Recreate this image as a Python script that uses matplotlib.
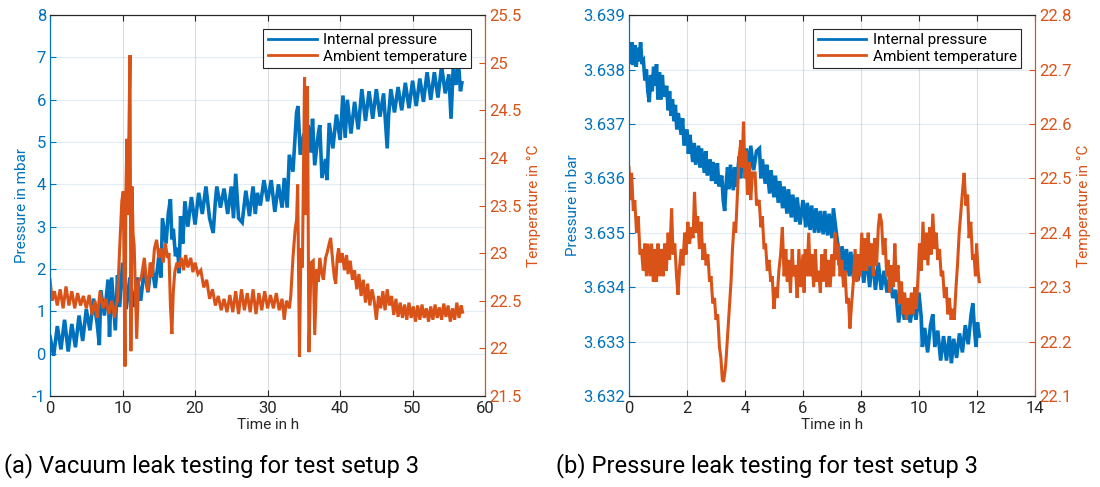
import matplotlib
matplotlib.use("Agg")
import matplotlib.pyplot as plt
from matplotlib.ticker import FuncFormatter, FormatStrFormatter

plt.rcParams['font.family'] = ['Roboto', 'DejaVu Sans']

BLUE = '#0072BD'
ORANGE = '#D95319'
DARK = '#262626'

# ---- (a) vacuum leak test: internal pressure (mbar) ----
t_vac_p = [0.0, 0.5, 1.0, 1.5, 2.0, 2.5, 3.0, 3.5, 4.0, 4.5, 5.0, 5.5, 6.0, 6.5, 6.8, 7.0, 7.5, 8.0,
           8.2, 8.5, 9.0, 9.3, 9.6, 10.0, 10.5, 11.0, 11.5, 12.0, 12.5, 13.0, 13.5, 14.0, 14.5, 15.0,
           15.3, 15.5, 16.0, 16.3, 16.6, 16.8, 17.0, 17.3, 17.6, 17.8, 18.0, 18.3, 18.6, 19.0, 19.5,
           20.0, 20.5, 21.0, 21.5, 22.0, 22.5, 22.8, 23.0, 23.5, 24.0, 24.5, 25.0, 25.3, 25.6, 26.0,
           26.5, 27.0, 27.5, 28.0, 28.3, 28.6, 29.0, 29.5, 30.0, 30.5, 31.0, 31.5, 32.0, 32.3, 32.7,
           33.0, 33.5, 34.0, 34.2, 34.5, 35.0, 35.3, 35.6, 36.0, 36.2, 36.5, 37.0, 37.2, 37.5, 38.0,
           38.2, 38.5, 39.0, 39.5, 40.0, 40.4, 40.7, 41.0, 41.5, 42.0, 42.5, 43.0, 43.5, 44.0, 44.5,
           45.0, 45.5, 46.0, 46.5, 46.7, 47.0, 47.5, 48.0, 48.5, 49.0, 49.5, 50.0, 50.5, 51.0, 51.5,
           52.0, 52.5, 53.0, 53.5, 54.0, 54.5, 55.0, 55.3, 55.6, 56.0, 56.3, 56.6, 56.8]
p_vac = [0.40, -0.05, 0.65, 0.10, 0.80, 0.05, 0.70, 0.15, 0.90, 0.30, 1.05, 0.55, 1.30, 0.70, 0.20,
         1.50, 0.90, 1.75, 0.40, 1.80, 0.55, 1.85, 1.10, 2.15, 1.05, 1.80, 1.10, 1.80, 1.25, 2.00,
         1.45, 2.15, 1.55, 2.30, 1.80, 3.20, 2.60, 3.30, 3.65, 2.70, 2.95, 2.30, 2.50, 1.90, 3.25,
         2.60, 3.60, 3.00, 3.70, 3.05, 3.80, 3.30, 3.95, 3.20, 2.85, 3.60, 3.95, 3.45, 3.90, 3.30,
         3.95, 3.20, 4.25, 3.20, 3.10, 3.85, 3.25, 3.95, 3.30, 3.80, 3.50, 4.10, 3.60, 4.10, 3.35,
         4.00, 3.45, 4.15, 3.45, 4.70, 4.30, 5.70, 5.85, 4.70, 5.20, 4.55, 5.40, 4.75, 5.55, 4.45,
         5.20, 5.40, 4.15, 4.60, 4.10, 5.45, 4.85, 5.65, 5.05, 6.10, 5.10, 6.00, 5.20, 5.95, 5.30,
         6.25, 5.50, 6.20, 5.55, 6.25, 5.60, 6.15, 4.85, 5.65, 6.25, 5.70, 6.30, 5.75, 6.40, 5.80,
         6.45, 5.85, 6.50, 5.95, 6.65, 6.00, 6.65, 6.05, 6.80, 6.15, 6.60, 5.55, 6.75, 6.35, 6.95,
         6.20, 6.40]

# ---- (a) vacuum leak test: ambient temperature (degC) ----
t_vac_T = [0.0, 0.3, 0.6, 1.0, 1.4, 1.8, 2.2, 2.6, 3.0, 3.4, 3.8, 4.2, 4.6, 5.0, 5.4, 5.8, 6.2, 6.5,
           6.9, 7.3, 7.7, 8.1, 8.5, 8.9, 9.1, 9.3, 9.6, 9.9, 10.1, 10.34, 10.45, 10.6, 10.75, 10.9,
           11.03, 11.15, 11.3, 11.45, 11.6, 11.8, 11.95, 12.2, 12.6, 13.0, 13.3, 13.5, 13.8, 14.1,
           14.4, 14.7, 15.0, 15.3, 15.6, 15.9, 16.2, 16.4, 16.6, 16.8, 17.0, 17.2, 17.5, 17.8, 18.1,
           18.4, 18.7, 19.0, 19.4, 19.7, 20.0, 20.4, 20.8, 21.2, 21.6, 22.0, 22.4, 22.8, 23.2, 23.6,
           24.0, 24.4, 24.8, 25.2, 25.6, 26.0, 26.4, 26.8, 27.2, 27.6, 28.0, 28.4, 28.8, 29.2, 29.6,
           30.0, 30.4, 30.8, 31.2, 31.6, 32.0, 32.3, 32.6, 33.0, 33.2, 33.5, 33.8, 34.0, 34.15, 34.4,
           34.6, 34.8, 35.1, 35.3, 35.5, 35.7, 36.0, 36.3, 36.5, 36.8, 37.0, 37.2, 37.5, 37.7, 38.0,
           38.2, 38.5, 38.7, 39.0, 39.2, 39.4, 39.6, 39.8, 40.0, 40.3, 40.6, 40.9, 41.1, 41.4, 41.7,
           42.0, 42.3, 42.6, 42.9, 43.2, 43.5, 43.8, 44.1, 44.4, 44.7, 45.0, 45.3, 45.6, 45.9, 46.2,
           46.5, 46.8, 47.1, 47.4, 47.7, 48.0, 48.3, 48.6, 48.9, 49.2, 49.5, 49.8, 50.1, 50.4, 50.7,
           51.0, 51.3, 51.6, 51.9, 52.2, 52.5, 52.8, 53.1, 53.4, 53.7, 54.0, 54.3, 54.6, 54.9, 55.2,
           55.5, 55.8, 56.1, 56.4, 56.7, 56.9]
T_vac = [22.72, 22.50, 22.60, 22.45, 22.62, 22.42, 22.65, 22.45, 22.60, 22.42, 22.58, 22.45, 22.55,
         22.42, 22.56, 22.35, 22.50, 22.32, 22.60, 22.42, 22.52, 22.36, 22.50, 22.32, 22.45, 22.50,
         23.05, 23.55, 23.65, 21.81, 23.55, 24.20, 23.40, 24.40, 25.08, 21.97, 23.70, 23.20, 23.08,
         22.50, 22.10, 22.70, 22.75, 22.95, 22.70, 22.60, 22.90, 22.75, 23.05, 23.14, 22.95, 23.05,
         22.90, 23.10, 22.95, 23.00, 22.45, 22.15, 22.60, 22.80, 22.90, 22.85, 22.95, 22.82, 22.98,
         22.85, 22.95, 22.80, 22.90, 22.78, 22.82, 22.64, 22.72, 22.52, 22.62, 22.45, 22.55, 22.40,
         22.52, 22.38, 22.56, 22.38, 22.60, 22.36, 22.62, 22.40, 22.58, 22.38, 22.62, 22.36, 22.58,
         22.40, 22.60, 22.42, 22.56, 22.42, 22.58, 22.40, 22.52, 22.30, 22.50, 22.42, 22.55, 22.95,
         23.25, 23.35, 23.72, 21.91, 23.05, 22.85, 24.85, 23.40, 24.75, 21.96, 22.90, 22.92, 22.14,
         22.83, 22.70, 22.95, 22.78, 22.72, 22.95, 23.00, 23.10, 23.16, 22.90, 22.75, 22.68, 22.95,
         23.05, 22.90, 23.00, 22.82, 22.98, 22.78, 22.92, 22.72, 22.82, 22.62, 22.78, 22.55, 22.72,
         22.48, 22.68, 22.45, 22.62, 22.50, 22.30, 22.55, 22.42, 22.60, 22.40, 22.62, 22.45, 22.55,
         22.35, 22.52, 22.33, 22.48, 22.32, 22.46, 22.30, 22.48, 22.32, 22.44, 22.28, 22.45, 22.30,
         22.46, 22.32, 22.42, 22.28, 22.44, 22.30, 22.46, 22.32, 22.43, 22.30, 22.47, 22.33, 22.45,
         22.28, 22.42, 22.30, 22.48, 22.32, 22.45, 22.38]

# ---- (b) pressure leak test: internal pressure (bar) ----
t_pr_p = [0.00, 0.05, 0.10, 0.15, 0.20, 0.25, 0.30, 0.35, 0.40, 0.45, 0.50, 0.55, 0.60, 0.65, 0.70,
          0.75, 0.80, 0.85, 0.90, 0.95, 1.00, 1.05, 1.10, 1.15, 1.20, 1.30, 1.35, 1.40, 1.45, 1.50,
          1.55, 1.60, 1.65, 1.70, 1.80, 1.85, 1.90, 2.00, 2.05, 2.10, 2.20, 2.25, 2.30, 2.40, 2.45,
          2.50, 2.60, 2.65, 2.70, 2.80, 2.85, 2.90, 3.00, 3.05, 3.10, 3.20, 3.25, 3.30, 3.35, 3.40,
          3.45, 3.50, 3.60, 3.65, 3.70, 3.80, 3.85, 3.90, 4.00, 4.05, 4.15, 4.20, 4.30, 4.40, 4.50,
          4.55, 4.60, 4.70, 4.75, 4.85, 4.90, 5.00, 5.05, 5.15, 5.20, 5.30, 5.35, 5.45, 5.50, 5.60,
          5.65, 5.75, 5.80, 5.90, 6.00, 6.10, 6.15, 6.25, 6.30, 6.40, 6.45, 6.55, 6.60, 6.70, 6.75,
          6.85, 6.90, 7.00, 7.05, 7.15, 7.20, 7.25, 7.35, 7.45, 7.50, 7.60, 7.65, 7.75, 7.80, 7.90,
          8.00, 8.10, 8.20, 8.30, 8.40, 8.50, 8.60, 8.70, 8.80, 8.90, 9.00, 9.10, 9.20, 9.30, 9.40,
          9.50, 9.60, 9.70, 9.80, 9.90, 10.00, 10.08, 10.12, 10.20, 10.30, 10.40, 10.48, 10.55,
          10.65, 10.75, 10.85, 10.95, 11.05, 11.12, 11.20, 11.30, 11.40, 11.50, 11.60, 11.70, 11.80,
          11.86, 11.92, 11.97, 12.02, 12.08]
p_pr = [3.63845, 3.63810, 3.63850, 3.63808, 3.63845, 3.63805, 3.63840, 3.63815, 3.63850, 3.63810,
        3.63815, 3.63780, 3.63800, 3.63760, 3.63740, 3.63790, 3.63760, 3.63805, 3.63770, 3.63810,
        3.63745, 3.63795, 3.63745, 3.63790, 3.63750, 3.63770, 3.63725, 3.63760, 3.63715, 3.63745,
        3.63705, 3.63735, 3.63690, 3.63720, 3.63680, 3.63710, 3.63660, 3.63690, 3.63645, 3.63680,
        3.63630, 3.63665, 3.63625, 3.63660, 3.63620, 3.63655, 3.63610, 3.63650, 3.63605, 3.63635,
        3.63595, 3.63630, 3.63590, 3.63628, 3.63585, 3.63605, 3.63560, 3.63540, 3.63590, 3.63620,
        3.63580, 3.63625, 3.63578, 3.63620, 3.63585, 3.63640, 3.63600, 3.63650, 3.63605, 3.63655,
        3.63612, 3.63660, 3.63615, 3.63650, 3.63655, 3.63600, 3.63635, 3.63590, 3.63625, 3.63572,
        3.63615, 3.63565, 3.63605, 3.63555, 3.63595, 3.63545, 3.63585, 3.63535, 3.63580, 3.63528,
        3.63570, 3.63520, 3.63565, 3.63515, 3.63560, 3.63510, 3.63555, 3.63505, 3.63550, 3.63500,
        3.63545, 3.63500, 3.63540, 3.63497, 3.63540, 3.63495, 3.63535, 3.63490, 3.63545, 3.63500,
        3.63480, 3.63440, 3.63475, 3.63430, 3.63470, 3.63420, 3.63465, 3.63415, 3.63460, 3.63412,
        3.63458, 3.63408, 3.63460, 3.63400, 3.63455, 3.63395, 3.63445, 3.63395, 3.63430, 3.63390,
        3.63420, 3.63380, 3.63395, 3.63335, 3.63375, 3.63340, 3.63372, 3.63335, 3.63370, 3.63340,
        3.63390, 3.63345, 3.63290, 3.63325, 3.63280, 3.63330, 3.63350, 3.63290, 3.63320, 3.63265,
        3.63310, 3.63265, 3.63310, 3.63260, 3.63305, 3.63270, 3.63315, 3.63280, 3.63330, 3.63295,
        3.63350, 3.63370, 3.63320, 3.63290, 3.63335, 3.63310]

# ---- (b) pressure leak test: ambient temperature (degC) ----
t_pr_T = [0.00, 0.04, 0.09, 0.15, 0.20, 0.26, 0.32, 0.38, 0.43, 0.49, 0.55, 0.60, 0.66, 0.72, 0.78,
          0.84, 0.89, 0.95, 1.00, 1.06, 1.12, 1.18, 1.23, 1.29, 1.35, 1.40, 1.47, 1.52, 1.58, 1.64,
          1.69, 1.75, 1.80, 1.86, 1.92, 1.97, 2.03, 2.09, 2.15, 2.21, 2.26, 2.32, 2.37, 2.43, 2.49,
          2.55, 2.60, 2.66, 2.72, 2.78, 2.83, 2.89, 2.95, 3.00, 3.06, 3.12, 3.17, 3.22, 3.26, 3.30,
          3.34, 3.40, 3.46, 3.52, 3.57, 3.63, 3.68, 3.74, 3.80, 3.86, 3.90, 3.95, 4.00, 4.03, 4.09,
          4.14, 4.20, 4.26, 4.35, 4.40, 4.49, 4.55, 4.60, 4.66, 4.71, 4.77, 4.83, 4.89, 4.94, 5.00,
          5.06, 5.11, 5.17, 5.23, 5.29, 5.35, 5.41, 5.46, 5.51, 5.57, 5.63, 5.68, 5.74, 5.80, 5.86,
          5.92, 6.00, 6.04, 6.08, 6.14, 6.20, 6.25, 6.31, 6.37, 6.43, 6.48, 6.54, 6.60, 6.65, 6.71,
          6.77, 6.82, 6.88, 6.94, 7.00, 7.06, 7.11, 7.17, 7.22, 7.28, 7.34, 7.40, 7.45, 7.51, 7.57,
          7.62, 7.68, 7.74, 7.80, 7.86, 7.91, 7.97, 8.03, 8.09, 8.14, 8.20, 8.25, 8.31, 8.37, 8.43,
          8.48, 8.54, 8.60, 8.65, 8.71, 8.77, 8.83, 8.89, 8.94, 9.00, 9.05, 9.11, 9.17, 9.22, 9.28,
          9.34, 9.40, 9.45, 9.51, 9.57, 9.62, 9.68, 9.74, 9.80, 9.86, 9.91, 9.97, 10.02, 10.08,
          10.14, 10.20, 10.25, 10.31, 10.37, 10.42, 10.48, 10.54, 10.60, 10.65, 10.71, 10.77, 10.82,
          10.88, 10.94, 11.00, 11.05, 11.11, 11.16, 11.22, 11.28, 11.33, 11.39, 11.45, 11.51, 11.56,
          11.62, 11.68, 11.73, 11.79, 11.85, 11.90, 11.95, 11.99, 12.04, 12.08]
T_pr = [22.52, 22.46, 22.51, 22.44, 22.46, 22.40, 22.43, 22.36, 22.37, 22.33, 22.38, 22.32, 22.38,
        22.32, 22.38, 22.31, 22.37, 22.31, 22.38, 22.32, 22.37, 22.32, 22.38, 22.33, 22.40, 22.35,
        22.445, 22.36, 22.38, 22.32, 22.286, 22.34, 22.37, 22.34, 22.40, 22.36, 22.42, 22.38, 22.41,
        22.39, 22.475, 22.40, 22.43, 22.37, 22.42, 22.35, 22.38, 22.34, 22.36, 22.31, 22.32, 22.27,
        22.28, 22.24, 22.25, 22.19, 22.17, 22.13, 22.126, 22.14, 22.16, 22.21, 22.26, 22.31, 22.37,
        22.42, 22.40, 22.47, 22.54, 22.57, 22.52, 22.604, 22.50, 22.55, 22.47, 22.53, 22.46, 22.51,
        22.51, 22.45, 22.46, 22.41, 22.43, 22.37, 22.38, 22.33, 22.35, 22.31, 22.32, 22.26, 22.30,
        22.28, 22.33, 22.36, 22.41, 22.32, 22.37, 22.31, 22.35, 22.29, 22.37, 22.32, 22.34, 22.28,
        22.37, 22.30, 22.36, 22.29, 22.37, 22.32, 22.40, 22.32, 22.36, 22.30, 22.37, 22.31, 22.33,
        22.29, 22.36, 22.31, 22.37, 22.30, 22.35, 22.30, 22.36, 22.32, 22.40, 22.35, 22.38, 22.32,
        22.35, 22.30, 22.33, 22.27, 22.28, 22.224, 22.27, 22.31, 22.37, 22.31, 22.36, 22.32, 22.40,
        22.33, 22.39, 22.33, 22.40, 22.34, 22.38, 22.32, 22.39, 22.34, 22.41, 22.435, 22.42, 22.36,
        22.39, 22.32, 22.35, 22.29, 22.34, 22.30, 22.38, 22.31, 22.34, 22.27, 22.31, 22.25, 22.29,
        22.24, 22.28, 22.25, 22.29, 22.25, 22.30, 22.26, 22.32, 22.38, 22.33, 22.42, 22.35, 22.40,
        22.34, 22.41, 22.36, 22.435, 22.37, 22.40, 22.35, 22.37, 22.32, 22.33, 22.28, 22.30, 22.25,
        22.28, 22.24, 22.26, 22.24, 22.30, 22.34, 22.40, 22.44, 22.48, 22.51, 22.45, 22.47, 22.39,
        22.42, 22.35, 22.36, 22.32, 22.38, 22.33, 22.31]

captions = ['(a) Vacuum leak testing for test setup 3', '(b) Pressure leak testing for test setup 3']
legend_labels = ['Internal pressure', 'Ambient temperature']

fig = plt.figure(figsize=(11, 4.87), dpi=100)
g = FuncFormatter(lambda v, pos: '%g' % round(v, 6))


def make_panel(rect, tp, pv, tT, Tv, xlim, xticks, plim, pticks, pfmt, plabel, Tlim, Tticks):
    ax = fig.add_axes(rect)
    ax2 = ax.twinx()
    l1, = ax.plot(tp, pv, color=BLUE, lw=2.6, solid_joinstyle='miter')
    l2, = ax2.plot(tT, Tv, color=ORANGE, lw=2.2, solid_joinstyle='miter')
    ax.set_xlim(*xlim)
    ax.set_xticks(xticks)
    ax.set_ylim(*plim)
    ax.set_yticks(pticks)
    ax.yaxis.set_major_formatter(pfmt)
    ax2.set_ylim(*Tlim)
    ax2.set_yticks(Tticks)
    ax2.yaxis.set_major_formatter(g)
    ax.xaxis.set_major_formatter(g)
    ax.grid(True, axis='y', color=BLUE, alpha=0.12, lw=0.8)
    ax.grid(True, axis='x', color=DARK, alpha=0.15, lw=0.8)
    ax.tick_params(axis='x', direction='in', top=True, colors=DARK, labelsize=12, length=4, pad=4)
    ax.tick_params(axis='y', direction='in', colors=BLUE, labelsize=12, length=4, pad=3)
    ax2.tick_params(axis='y', direction='in', colors=ORANGE, labelsize=12, length=4, pad=3)
    for a in (ax, ax2):
        a.spines['top'].set_color(DARK)
        a.spines['bottom'].set_color(DARK)
        a.spines['left'].set_color(BLUE)
        a.spines['right'].set_color(ORANGE)
    ax.set_xlabel('Time in h', color=DARK, fontsize=11, labelpad=1)
    ax.set_ylabel(plabel, color=BLUE, fontsize=11, labelpad=2)
    ax2.set_ylabel('Temperature in °C', color=ORANGE, fontsize=11, labelpad=4)
    leg = ax2.legend([l1, l2], legend_labels, loc='upper right', fontsize=11, fancybox=False,
                     framealpha=1, edgecolor=DARK, borderaxespad=0.9, handlelength=3.2,
                     labelspacing=0.15, borderpad=0.3, handletextpad=0.4)
    leg.get_frame().set_linewidth(0.8)
    for h in leg.get_lines():
        h.set_linewidth(2.0)
    return ax, ax2


make_panel([0.0455, 0.187, 0.3955, 0.782], t_vac_p, p_vac, t_vac_T, T_vac,
           (0, 60), [0, 10, 20, 30, 40, 50, 60], (-1, 8), list(range(-1, 9)), g,
           'Pressure in mbar', (21.5, 25.5), [21.5, 22, 22.5, 23, 23.5, 24, 24.5, 25, 25.5])

make_panel([0.5718, 0.187, 0.369, 0.782], t_pr_p, p_pr, t_pr_T, T_pr,
           (0, 14), [0, 2, 4, 6, 8, 10, 12, 14], (3.632, 3.639),
           [3.632, 3.633, 3.634, 3.635, 3.636, 3.637, 3.638, 3.639], FormatStrFormatter('%.3f'),
           'Pressure in bar', (22.1, 22.8), [22.1, 22.2, 22.3, 22.4, 22.5, 22.6, 22.7, 22.8])

fig.text(0.004, 0.045, captions[0], ha='left', va='center', fontsize=17, color='black')
fig.text(0.505, 0.045, captions[1], ha='left', va='center', fontsize=17, color='black')

fig.savefig('out.png', dpi=100)
